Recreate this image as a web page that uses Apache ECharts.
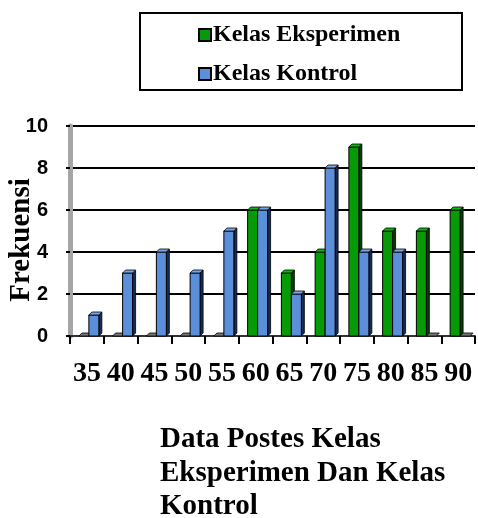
<!DOCTYPE html>
<html>
<head>
<meta charset="utf-8">
<script src="https://cdn.jsdelivr.net/npm/echarts@6/dist/echarts.min.js"></script>
<style>
  html, body { margin: 0; padding: 0; background: #ffffff; }
  #chart { width: 478px; height: 518px; }
</style>
</head>
<body>
<div id="chart"></div>
<script>
// Nilai postes (kategori skor) dan frekuensi tiap kelas
const categories = ['35', '40', '45', '50', '55', '60', '65', '70', '75', '80', '85', '90'];
const eksperimen = [0, 0, 0, 0, 0, 6, 3, 4, 9, 5, 5, 6];
const kontrol = [1, 3, 4, 3, 5, 6, 2, 8, 4, 4, 0, 0];
const yTicks = [0, 2, 4, 6, 8, 10];

const SERIF = '"Liberation Serif", "Times New Roman", serif';
const SANS = '"Liberation Sans", Arial, sans-serif';

// Batang semu 3D: muka depan, sisi kanan dan tutup atas
function bar3d(slot, front, side, topFill) {
  return function (params, api) {
    const idx = api.value(0);
    const v = api.value(1);
    const base = api.coord([idx, 0]);
    const top = api.coord([idx, v]);
    const band = api.size([1, 0])[0];
    const w = band * 0.296;
    const d = 3;
    const x0 = base[0] - band * 0.237 + slot * w;
    const yb = base[1];
    const yt = top[1];
    const children = [];
    if (v > 0) {
      children.push({
        type: 'polygon',
        shape: { points: [[x0 + w, yt], [x0 + w + d, yt - d], [x0 + w + d, yb - d], [x0 + w, yb]] },
        style: { fill: side, stroke: '#000', lineWidth: 0.8 }
      });
      children.push({
        type: 'rect',
        shape: { x: x0, y: yt, width: w, height: yb - yt },
        style: { fill: front, stroke: '#000', lineWidth: 1 }
      });
    }
    children.push({
      type: 'polygon',
      shape: { points: [[x0, yt], [x0 + d, yt - d], [x0 + w + d, yt - d], [x0 + w, yt]] },
      style: { fill: v > 0 ? topFill : '#777', stroke: '#000', lineWidth: 0.8 }
    });
    return { type: 'group', children: children };
  };
}

const chart = echarts.init(document.getElementById('chart'), null, { renderer: 'canvas' });

chart.setOption({
  animation: false,
  backgroundColor: '#ffffff',
  title: {
    text: 'Data Postes Kelas\nEksperimen Dan Kelas\nKontrol',
    left: 160,
    top: 423,
    padding: 0,
    textStyle: {
      fontFamily: SERIF,
      fontWeight: 'bold',
      fontSize: 29,
      lineHeight: 33.5,
      color: '#000'
    }
  },
  graphic: [
    {
      // bingkai legenda
      type: 'rect',
      shape: { x: 140, y: 13, width: 322, height: 77 },
      style: { fill: 'none', stroke: '#000', lineWidth: 2 },
      z: 1
    },
    {
      // judul sumbu Y
      type: 'text',
      x: 22,
      y: 240,
      rotation: Math.PI / 2,
      style: {
        text: 'Frekuensi',
        fontFamily: SERIF,
        fontWeight: 'bold',
        fontSize: 29,
        fill: '#000',
        align: 'center',
        verticalAlign: 'middle'
      },
      z: 5
    }
  ],
  legend: {
    orient: 'vertical',
    left: 198,
    top: 23,
    padding: 0,
    itemGap: 15,
    itemWidth: 12,
    itemHeight: 12,
    data: [
      { name: 'Kelas Eksperimen', icon: 'rect', itemStyle: { color: '#079a07', borderColor: '#000', borderWidth: 2 } },
      { name: 'Kelas Kontrol', icon: 'rect', itemStyle: { color: '#5b8fda', borderColor: '#000', borderWidth: 2 } }
    ],
    textStyle: {
      fontFamily: SERIF,
      fontWeight: 'bold',
      fontSize: 24,
      color: '#000',
      padding: [0, 0, 0, -3]
    }
  },
  grid: { left: 70, right: 3, top: 126, bottom: 182, containLabel: false, outerBoundsMode: 'none' },
  xAxis: {
    type: 'category',
    data: categories,
    boundaryGap: true,
    axisLine: { show: true, lineStyle: { color: '#333', width: 2 } },
    axisTick: { show: true, length: 8, lineStyle: { color: '#000', width: 2 } },
    axisLabel: {
      interval: 0,
      margin: 24,
      fontFamily: SERIF,
      fontWeight: 'bold',
      fontSize: 28,
      color: '#000'
    },
    splitLine: { show: false }
  },
  yAxis: {
    type: 'value',
    min: 0,
    max: 10,
    interval: 2,
    axisLine: { show: true, lineStyle: { color: '#a6a6a6', width: 5 } },
    axisTick: { show: true, length: 4, lineStyle: { color: '#000', width: 2 } },
    axisLabel: {
      margin: 22,
      fontFamily: SANS,
      fontWeight: 'bold',
      fontSize: 20,
      color: '#000',
      formatter: function (v) { return yTicks.indexOf(v) >= 0 ? String(v) : ''; }
    },
    splitLine: { show: true, lineStyle: { color: '#000', width: 2 } }
  },
  series: [
    {
      name: 'Kelas Eksperimen',
      type: 'custom',
      renderItem: bar3d(0, '#079a07', '#033f03', '#0cb80c'),
      itemStyle: { color: '#079a07' },
      data: eksperimen.map(function (v, i) { return [i, v]; }),
      z: 3
    },
    {
      name: 'Kelas Kontrol',
      type: 'custom',
      renderItem: bar3d(1, '#5b8fda', '#182b57', '#7aa6e6'),
      itemStyle: { color: '#5b8fda' },
      data: kontrol.map(function (v, i) { return [i, v]; }),
      z: 4
    }
  ]
});
</script>
</body>
</html>
